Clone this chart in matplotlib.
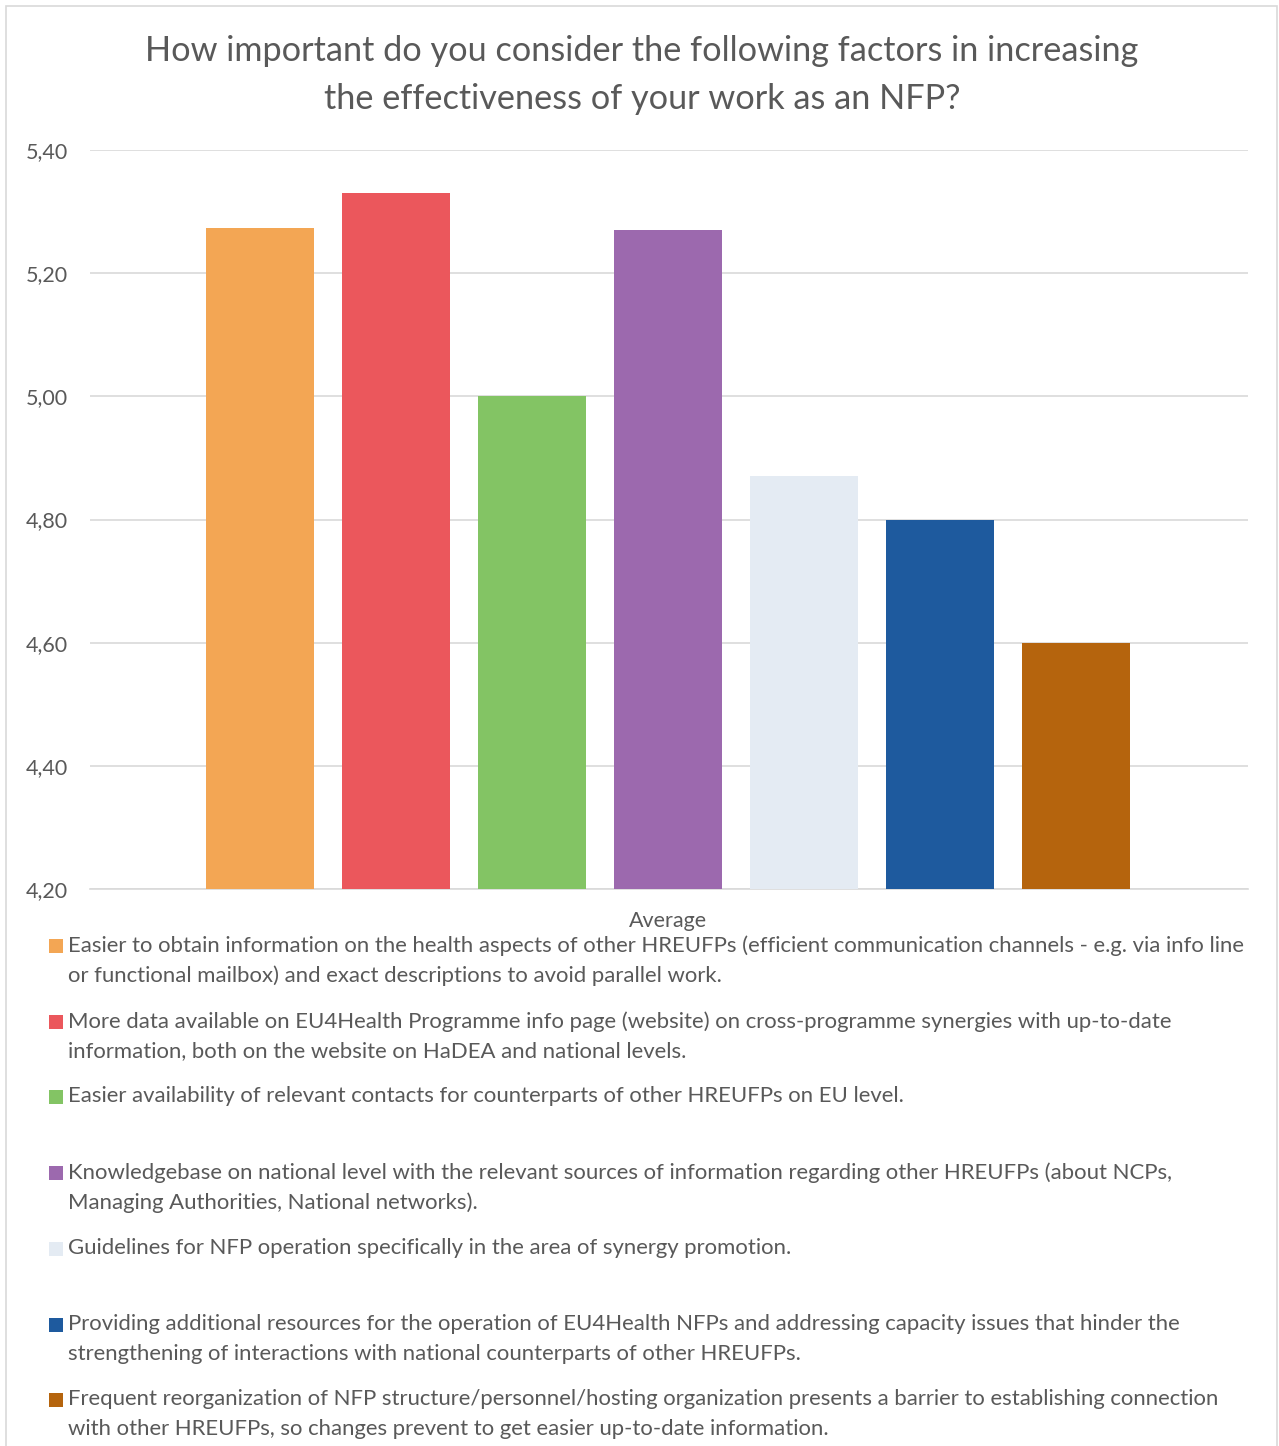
import matplotlib
matplotlib.use("Agg")
import matplotlib.pyplot as plt
from matplotlib.patches import Rectangle

plt.rcParams['font.family'] = ['Lato', 'DejaVu Sans']

title = "How important do you consider the following factors in increasing\nthe effectiveness of your work as an NFP?"
category = "Average"
values = [5.273, 5.33, 5.00, 5.27, 4.87, 4.80, 4.60]
labels = [
    "Easier to obtain information on the health aspects of other HREUFPs (efficient communication channels - e.g. via info line\nor functional mailbox) and exact descriptions to avoid parallel work.",
    "More data available on EU4Health Programme info page (website) on cross-programme synergies with up-to-date\ninformation, both on the website on HaDEA and national levels.",
    "Easier availability of relevant contacts for counterparts of other HREUFPs on EU level.",
    "Knowledgebase on national level with the relevant sources of information regarding other HREUFPs (about NCPs,\nManaging Authorities, National networks).",
    "Guidelines for NFP operation specifically in the area of synergy promotion.",
    "Providing additional resources for the operation of EU4Health NFPs and addressing capacity issues that hinder the\nstrengthening of interactions with national counterparts of other HREUFPs.",
    "Frequent reorganization of NFP structure/personnel/hosting organization presents a barrier to establishing connection\nwith other HREUFPs, so changes prevent to get easier up-to-date information.",
]
colors = ["#F3A654", "#EB575C", "#83C464", "#9C69AE", "#E4EBF3", "#1E5A9E", "#B5640D"]
yticks = [4.20, 4.40, 4.60, 4.80, 5.00, 5.20, 5.40]
ytick_labels = ["4,20", "4,40", "4,60", "4,80", "5,00", "5,20", "5,40"]

W, H = 1279, 1446
fig = plt.figure(figsize=(W / 100, H / 100), dpi=100)

# chart border
fig.patches.append(Rectangle((6 / W, -0.01), (1277 - 6) / W, 1 - 6 / H + 0.01,
                             transform=fig.transFigure, fill=False,
                             edgecolor="#D9D9D9", linewidth=1.2))

ax = fig.add_axes([90 / W, 1 - 889 / H, (1248 - 90) / W, (889 - 150) / H])
x = list(range(len(values)))
ax.bar(x, values, width=108 / 136, color=colors, bottom=0, zorder=3)
ax.set_xlim((90 - 260) / 136, (1248 - 260) / 136)
ax.set_ylim(4.20, 5.40)
ax.set_yticks(yticks)
ax.set_yticklabels(ytick_labels)
ax.grid(axis="y", color="#D9D9D9", linewidth=1.2, zorder=0)
for s in ["top", "right", "left"]:
    ax.spines[s].set_visible(False)
ax.spines["bottom"].set_color("#D9D9D9")
ax.spines["bottom"].set_linewidth(1.2)
ax.tick_params(axis="y", length=0, pad=16, labelsize=15.5, labelcolor="#595959")
ax.set_xticks([3])
ax.set_xticklabels([category])
ax.tick_params(axis="x", length=0, pad=16, labelsize=15.5, labelcolor="#595959")

fig.text(642 / W, 1 - 75 / H, title, ha="center", va="center", fontsize=24.7,
         color="#595959", linespacing=1.62)

# legend
entry_y = [946, 1022, 1097, 1173, 1249, 1325, 1400]
for yy, lab, c in zip(entry_y, labels, colors):
    fig.patches.append(Rectangle((49 / W, 1 - (yy + 7) / H), 14 / W, 14 / H,
                                 transform=fig.transFigure, facecolor=c,
                                 edgecolor="none"))
    fig.text(68 / W, 1 - (yy - 11) / H, lab, ha="left", va="top", fontsize=15.9,
             color="#595959", linespacing=1.6)

fig.savefig("out.png", dpi=100)
